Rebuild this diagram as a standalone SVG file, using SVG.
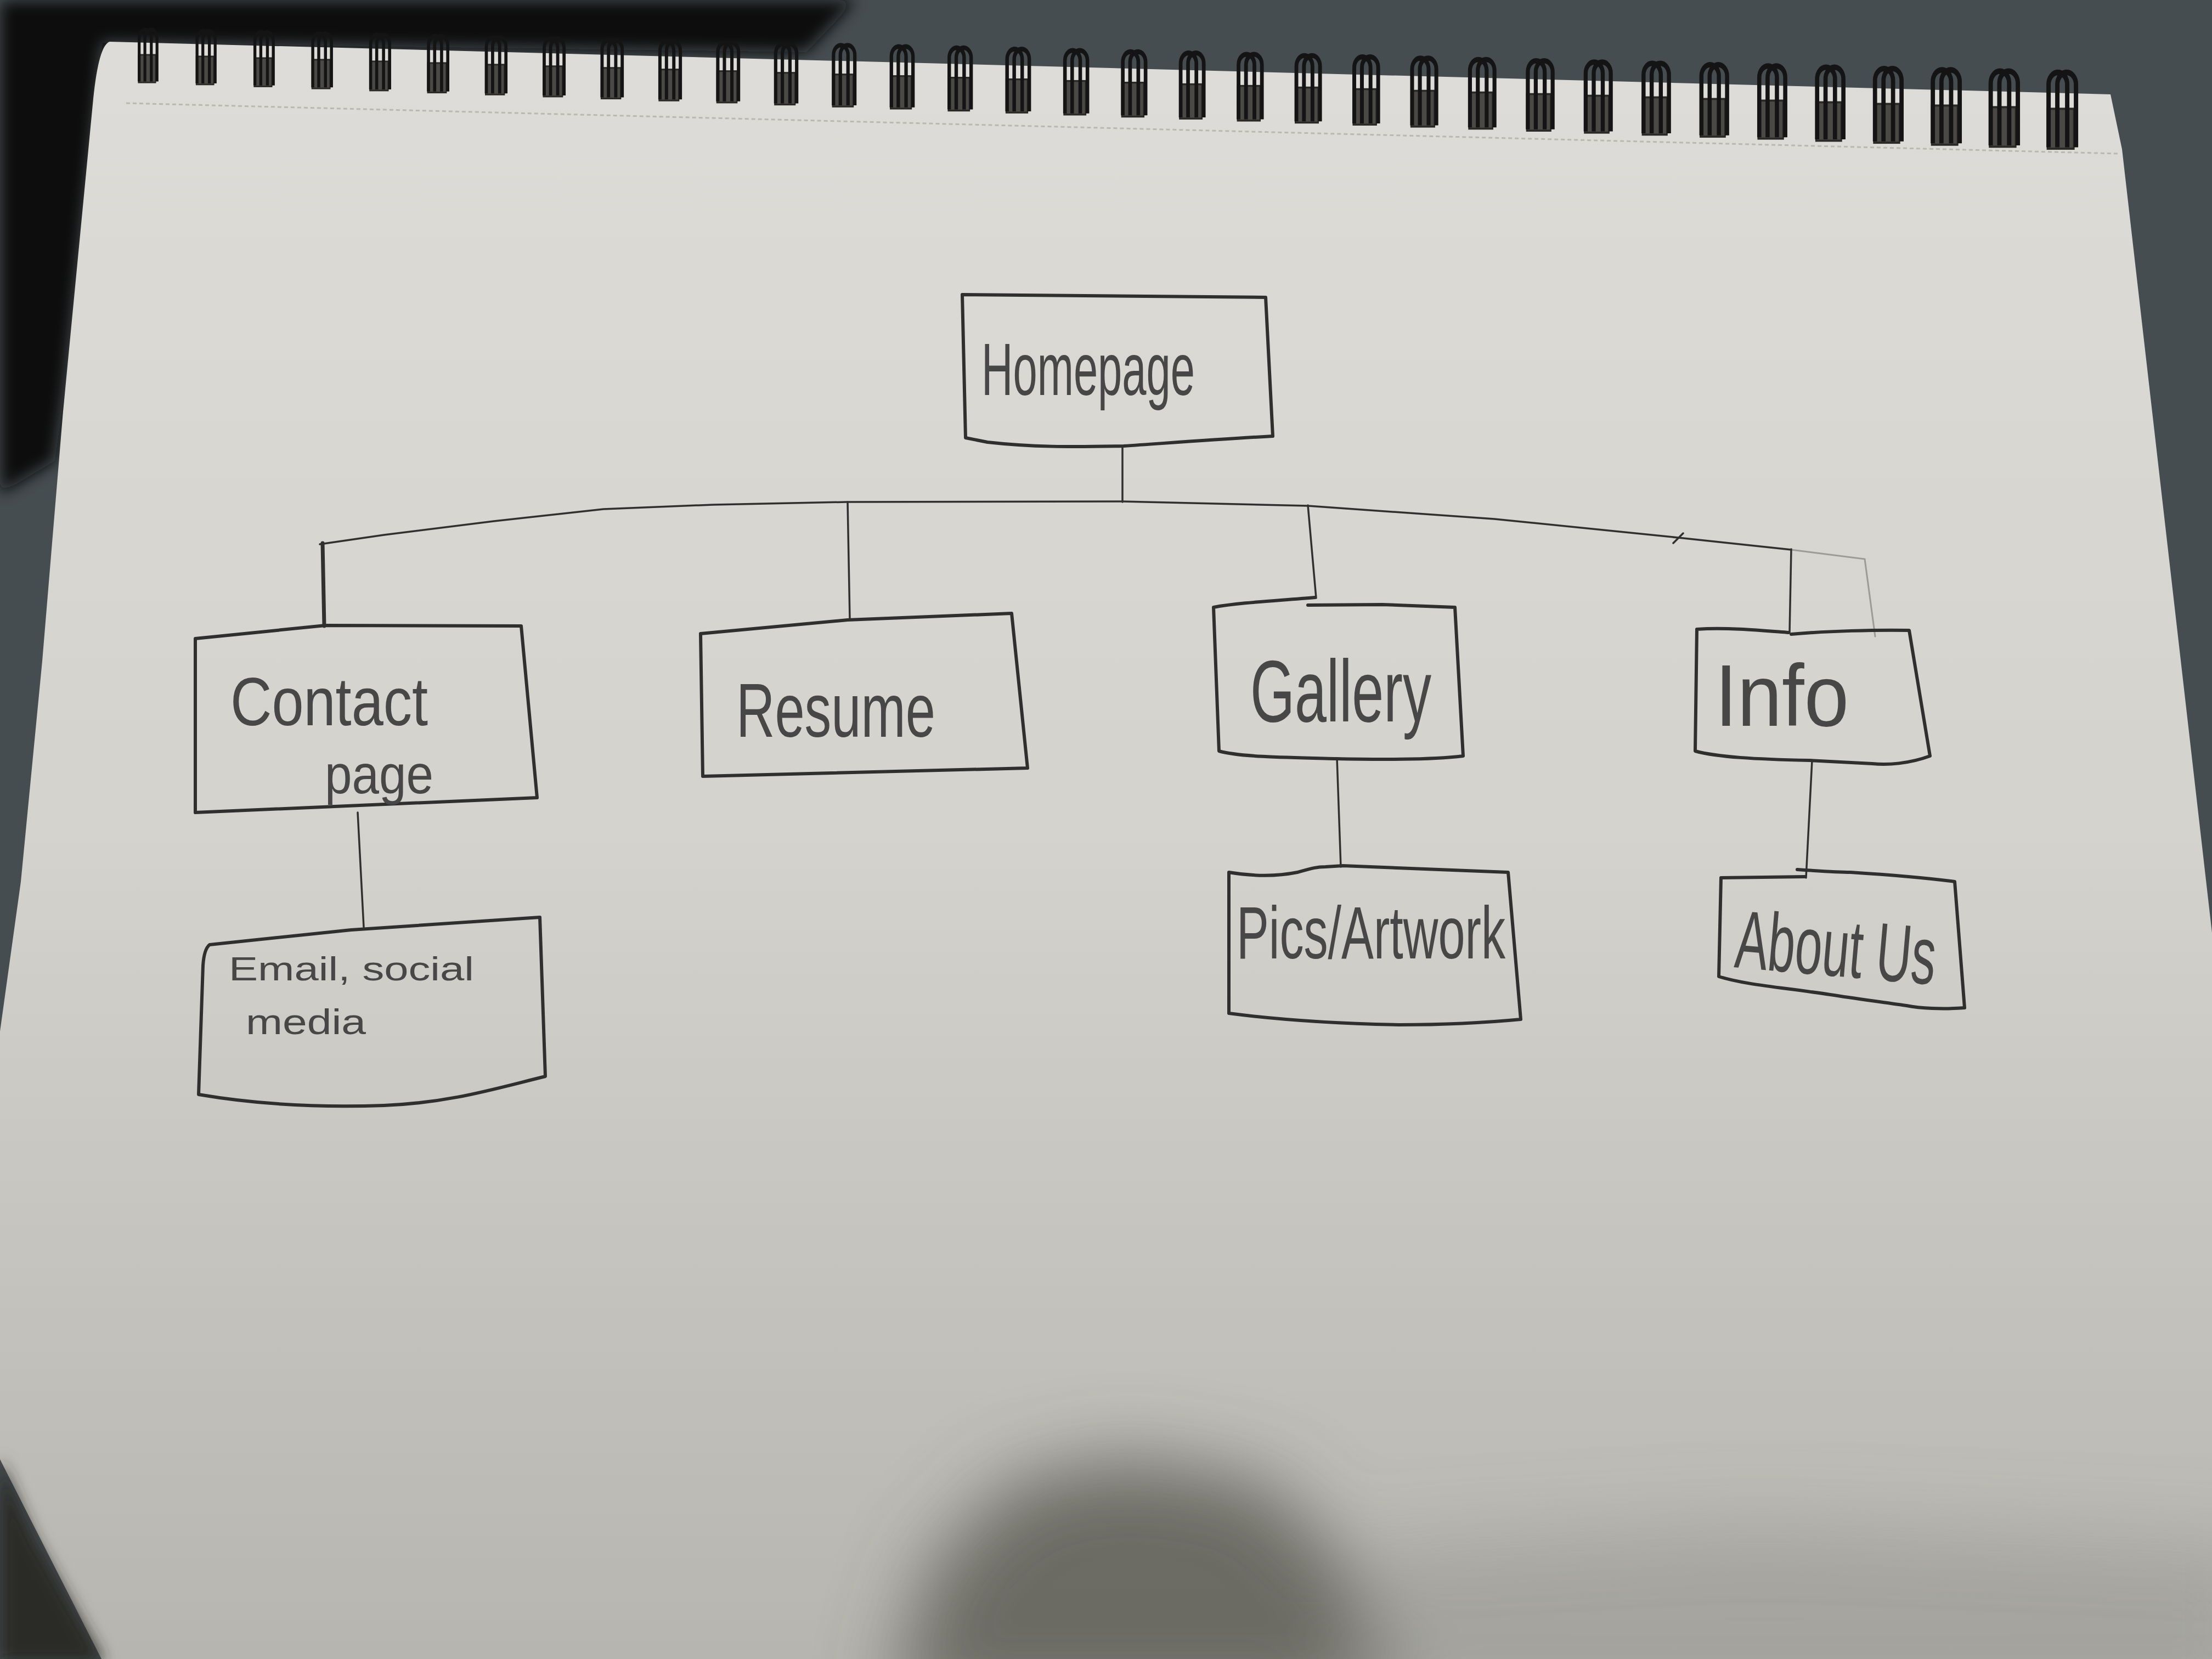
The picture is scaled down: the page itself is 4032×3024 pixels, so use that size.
<svg xmlns="http://www.w3.org/2000/svg" width="4032" height="3024" viewBox="0 0 4032 3024">
<defs>
  <linearGradient id="paper" x1="0" y1="0" x2="0" y2="1">
    <stop offset="0" stop-color="#dddcd8"/>
    <stop offset="0.5" stop-color="#d3d2cd"/>
    <stop offset="1" stop-color="#b6b5af"/>
  </linearGradient>
  <filter id="blur" x="-50%" y="-50%" width="200%" height="200%"><feGaussianBlur stdDeviation="70"/></filter>
  <filter id="soft" x="-20%" y="-20%" width="140%" height="140%"><feGaussianBlur stdDeviation="14"/></filter>
  <g id="coil">
    <rect x="-24" y="22" width="48" height="56" fill="#4b4946" stroke="#2a2927" stroke-width="3"/>
    <path d="M-22,76 V-12 A17,17 0 0 1 12,-12 V76 M-6,76 V-12 A17,17 0 0 1 28,-12 V76" fill="none" stroke="#141414" stroke-width="8"/>
  </g>
  <style>
    .box{fill:none;stroke:#2f2f2f;stroke-width:6;stroke-linejoin:round;stroke-linecap:round}
    .link{fill:none;stroke:#303030;stroke-width:3.5;stroke-linecap:round;stroke-linejoin:round}
    .faint{fill:none;stroke:#9c9b97;stroke-width:3;stroke-linecap:round}
    .lbl{font-family:"Liberation Sans","DejaVu Sans",sans-serif;fill:#474747}
  </style>
</defs>

<!-- background -->
<rect x="0" y="0" width="4032" height="3024" fill="#464d51"/>
<polygon points="0,0 1560,0 1470,95 187,78 120,700 100,840 0,900" fill="#0d0c0d" filter="url(#soft)"/>

<!-- paper -->
<path d="M200,76 L3847,172 L3868,272 L4032,1700 L4032,3024 L185,3024 L0,2660 L0,1880 L38,1607 L77,1205 L115,750 L170,180 Q180,82 200,76 Z" fill="url(#paper)"/>
<line x1="230" y1="188" x2="3860" y2="280" stroke="#b9b8b2" stroke-width="3" stroke-dasharray="7 5"/>

<!-- shadows -->
<g filter="url(#blur)">
  <polygon points="1620,3120 1700,2850 1850,2700 2050,2660 2300,2700 2450,2850 2560,3120" fill="#5e5d55" opacity="0.85"/>
  <polygon points="2400,3120 2520,2820 3200,2780 4120,2820 4120,3120" fill="#8f8e87" opacity="0.45"/>
</g>
<polygon points="0,2660 60,2800 190,3030 0,3030" fill="#2a2a26" filter="url(#soft)"/>

<!-- spiral binding -->
<g id="spiral">
  <use href="#coil" transform="translate(268,80.1) scale(0.65,0.9)"/>
  <use href="#coil" transform="translate(373.7,82.8) scale(0.661,0.912)"/>
  <use href="#coil" transform="translate(479.4,85.5) scale(0.671,0.924)"/>
  <use href="#coil" transform="translate(585.1,88.2) scale(0.682,0.936)"/>
  <use href="#coil" transform="translate(690.8,91) scale(0.692,0.948)"/>
  <use href="#coil" transform="translate(796.5,93.7) scale(0.703,0.961)"/>
  <use href="#coil" transform="translate(902.2,96.4) scale(0.714,0.973)"/>
  <use href="#coil" transform="translate(1007.9,99.1) scale(0.724,0.985)"/>
  <use href="#coil" transform="translate(1113.6,101.8) scale(0.735,0.997)"/>
  <use href="#coil" transform="translate(1219.3,104.5) scale(0.745,1.009)"/>
  <use href="#coil" transform="translate(1325,107.2) scale(0.756,1.021)"/>
  <use href="#coil" transform="translate(1430.7,110) scale(0.767,1.033)"/>
  <use href="#coil" transform="translate(1536.4,112.7) scale(0.777,1.045)"/>
  <use href="#coil" transform="translate(1642.1,115.4) scale(0.788,1.058)"/>
  <use href="#coil" transform="translate(1747.8,118.1) scale(0.798,1.07)"/>
  <use href="#coil" transform="translate(1853.5,120.8) scale(0.809,1.082)"/>
  <use href="#coil" transform="translate(1959.2,123.5) scale(0.82,1.094)"/>
  <use href="#coil" transform="translate(2064.9,126.3) scale(0.83,1.106)"/>
  <use href="#coil" transform="translate(2170.6,129) scale(0.841,1.118)"/>
  <use href="#coil" transform="translate(2276.3,131.7) scale(0.852,1.13)"/>
  <use href="#coil" transform="translate(2382,134.4) scale(0.862,1.142)"/>
  <use href="#coil" transform="translate(2487.7,137.1) scale(0.873,1.155)"/>
  <use href="#coil" transform="translate(2593.4,139.8) scale(0.883,1.167)"/>
  <use href="#coil" transform="translate(2699.1,142.6) scale(0.894,1.179)"/>
  <use href="#coil" transform="translate(2804.8,145.3) scale(0.905,1.191)"/>
  <use href="#coil" transform="translate(2910.5,148) scale(0.915,1.203)"/>
  <use href="#coil" transform="translate(3016.2,150.7) scale(0.926,1.215)"/>
  <use href="#coil" transform="translate(3121.9,153.4) scale(0.936,1.227)"/>
  <use href="#coil" transform="translate(3227.6,156.1) scale(0.947,1.239)"/>
  <use href="#coil" transform="translate(3333.3,158.9) scale(0.958,1.252)"/>
  <use href="#coil" transform="translate(3439,161.6) scale(0.968,1.264)"/>
  <use href="#coil" transform="translate(3544.7,164.3) scale(0.979,1.276)"/>
  <use href="#coil" transform="translate(3650.4,167) scale(0.989,1.288)"/>
  <use href="#coil" transform="translate(3756.1,169.7) scale(1,1.3)"/>
</g>

<!-- connectors -->
<g id="connectors">
  <path class="link" d="M2046,815 L2046,915"/>
  <path class="link" d="M583,992 L700,975 L900,950 L1100,928 L1300,920 L1543,915 L2046,914 L2384,922 L2724,946 L3059,980 L3265,1002"/>
  <path class="faint" d="M3265,1002 L3399,1019 L3418,1160"/>
  <path class="link" d="M3050,990 L3068,972"/>
  <path class="link" d="M588,990 L591,1141" style="stroke-width:7"/>
  <path class="link" d="M1545,915 L1549,1128"/>
  <path class="link" d="M2384,921 L2399,1090"/>
  <path class="link" d="M3265,1001 L3262,1153"/>
  <path class="link" d="M652,1481 L663,1690"/>
  <path class="link" d="M2437,1382 L2444,1580"/>
  <path class="link" d="M3303,1386 L3292,1600"/>
</g>

<!-- nodes -->
<g id="node-homepage">
  <path class="box" d="M1754,537 L2307,542 L2320,795 C2230,800 2150,806 2048,813 C1950,815 1880,815 1800,806 L1760,798 Z"/>
  <text class="lbl" x="1789" y="720" font-size="135" textLength="389" lengthAdjust="spacingAndGlyphs">Homepage</text>
</g>

<g id="node-contact">
  <path class="box" d="M356,1164 L593,1140 L950,1141 L979,1454 L356,1481 Z"/>
  <text class="lbl" x="420" y="1322" font-size="125" textLength="360" lengthAdjust="spacingAndGlyphs">Contact</text>
  <text class="lbl" x="592" y="1446" font-size="100" textLength="198" lengthAdjust="spacingAndGlyphs">page</text>
</g>

<g id="node-email">
  <path class="box" d="M382,1722 L640,1695 L984,1672 L994,1962 C900,1985 820,2010 700,2015 C560,2020 450,2010 362,1995 L370,1760 Q372,1730 382,1722 Z"/>
  <text class="lbl" x="417" y="1787" font-size="62" textLength="447" lengthAdjust="spacingAndGlyphs">Email, social</text>
  <text class="lbl" x="448" y="1885" font-size="64" textLength="219" lengthAdjust="spacingAndGlyphs">media</text>
</g>

<g id="node-resume">
  <path class="box" d="M1277,1155 L1545,1130 L1844,1118 L1873,1400 L1281,1415 Z"/>
  <text class="lbl" x="1342" y="1343" font-size="140" textLength="363" lengthAdjust="spacingAndGlyphs">Resume</text>
</g>

<g id="node-gallery">
  <path class="box" d="M2212,1107 C2260,1098 2330,1095 2397,1089 M2384,1103 L2520,1102 L2652,1107 L2667,1378 C2600,1386 2500,1384 2437,1383 C2350,1381 2260,1380 2222,1369 L2212,1107"/>
  <text class="lbl" x="2279" y="1315" font-size="160" textLength="330" lengthAdjust="spacingAndGlyphs">Gallery</text>
</g>

<g id="node-info">
  <path class="box" d="M3093,1147 C3150,1143 3220,1150 3260,1153 M3265,1156 C3330,1150 3420,1148 3480,1149 L3518,1378 C3480,1392 3440,1395 3413,1392 C3370,1390 3330,1388 3298,1386 C3200,1384 3130,1380 3090,1369 L3093,1147"/>
  <text class="lbl" x="3126" y="1323" font-size="160" textLength="244" lengthAdjust="spacingAndGlyphs">Info</text>
</g>

<g id="node-pics">
  <path class="box" d="M2240,1590 C2300,1600 2340,1595 2365,1590 C2390,1583 2400,1580 2416,1580 L2448,1578 C2550,1583 2650,1586 2749,1590 L2772,1858 C2700,1865 2620,1868 2550,1868 C2450,1866 2340,1860 2240,1847 L2240,1590 Z"/>
  <text class="lbl" x="2254" y="1747" font-size="135" textLength="490" lengthAdjust="spacingAndGlyphs">Pics/Artwork</text>
</g>

<g id="node-about">
  <path class="box" d="M3137,1600 L3290,1598 M3276,1585 C3320,1588 3350,1590 3373,1590 C3450,1595 3510,1600 3563,1607 L3581,1837 C3540,1840 3500,1838 3475,1833 C3420,1825 3380,1820 3336,1813 C3250,1800 3180,1795 3133,1780 L3137,1600"/>
  <text class="lbl" x="3160" y="1763" font-size="150" textLength="366" lengthAdjust="spacingAndGlyphs" transform="rotate(5 3160 1763)">About Us</text>
</g>
</svg>
